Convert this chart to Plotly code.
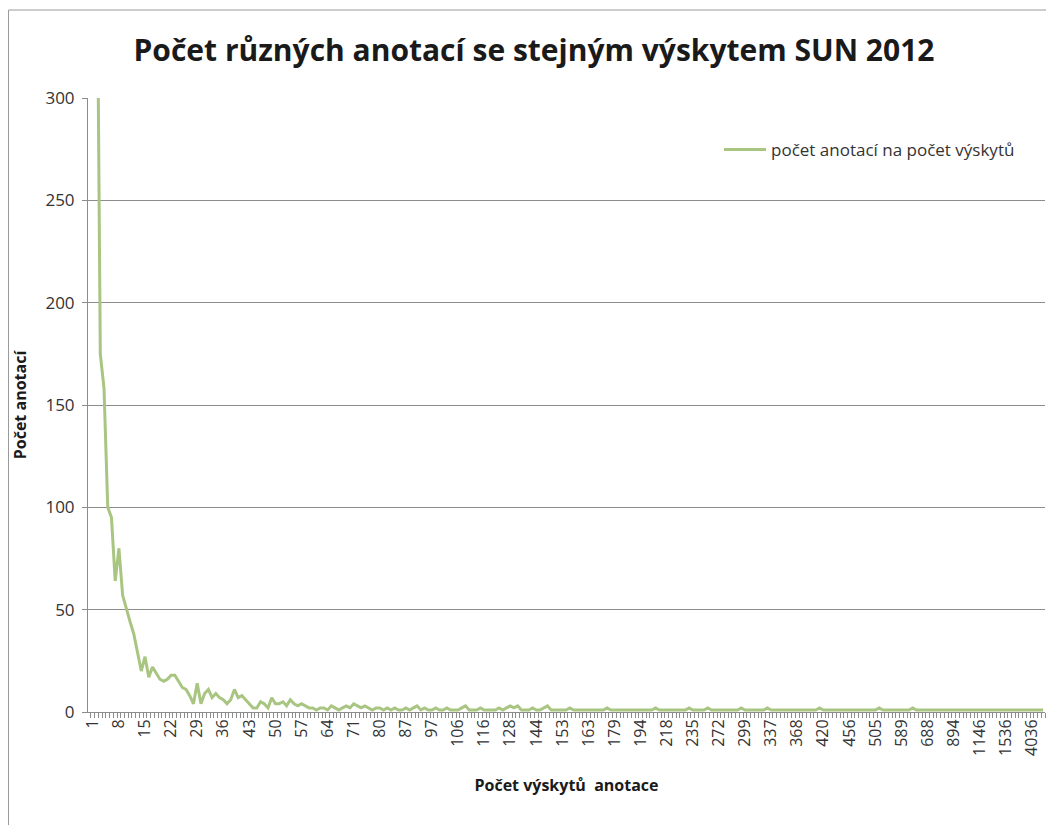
import plotly.graph_objects as go

# Occurrence counts (x categories)
categories = [
    1, 2, 3, 4, 5, 6, 7, 8, 9, 10, 11, 12, 13, 14, 15, 16, 17, 18, 19, 20,
    21, 22, 23, 24, 25, 26, 27, 28, 29, 30, 31, 32, 33, 34, 35, 36, 37, 38, 39, 40,
    41, 42, 43, 44, 45, 46, 47, 48, 49, 50, 51, 52, 53, 54, 55, 56, 57, 58, 59, 60,
    61, 62, 63, 64, 65, 66, 67, 68, 69, 70, 71,
    72, 73, 74, 75, 77, 78, 80,
    81, 82, 83, 84, 85, 86, 87,
    88, 89, 90, 92, 93, 95, 97,
    98, 99, 100, 101, 103, 104, 106,
    107, 108, 110, 111, 112, 114, 116,
    117, 118, 120, 122, 124, 126, 128,
    130, 131, 133, 135, 138, 141, 144,
    145, 146, 148, 149, 150, 152, 153,
    154, 155, 157, 158, 160, 161, 163,
    165, 167, 169, 171, 174, 177, 179,
    181, 183, 185, 187, 189, 192, 194,
    196, 199, 203, 206, 210, 214, 218,
    220, 222, 225, 227, 230, 232, 235,
    238, 242, 246, 251, 258, 265, 272,
    275, 279, 283, 286, 290, 295, 299,
    303, 308, 313, 319, 325, 330, 337,
    341, 345, 350, 354, 359, 363, 368,
    375, 381, 389, 396, 404, 412, 420,
    425, 430, 435, 440, 445, 450, 456,
    462, 469, 476, 483, 490, 497, 505,
    515, 526, 537, 549, 561, 575, 589,
    601, 614, 628, 643, 658, 673, 688,
    712, 740, 768, 796, 827, 860, 894,
    925, 962, 1001, 1040, 1075, 1110, 1146,
    1190, 1241, 1295, 1352, 1411, 1470, 1536,
    1630, 1780, 1960, 2210, 2580, 3120, 4036,
    4520, 5110, 6890,
]

# Number of annotations with that occurrence count
counts = [
    1150, 410, 175, 158, 100, 95, 64, 80, 57, 50,
    44, 38, 28, 20, 27, 17, 22, 19, 16, 15,
    16, 18, 18, 15, 12, 11, 8, 4, 14, 4,
    9, 11, 7, 9, 7, 6, 4, 6, 11, 7,
    8, 6, 4, 2, 2, 5, 4, 2, 7, 4,
    4, 5, 3, 6, 4, 3, 4, 3, 2, 2,
    1, 2, 2, 1, 3, 2, 1, 2, 3, 2, 4,
    3, 2, 3, 2, 1, 2, 2,
    1, 2, 1, 2, 1, 1, 2,
    1, 2, 3, 1, 2, 1, 1,
    2, 1, 1, 2, 1, 1, 1,
    2, 3, 1, 1, 1, 2, 1,
    1, 1, 1, 2, 1, 2, 3,
    2, 3, 1, 1, 1, 2, 1,
    1, 2, 3, 1, 1, 1, 1,
    1, 2, 1, 1, 1, 1, 1,
    1, 1, 1, 1, 2, 1, 1,
    1, 1, 1, 1, 1, 1, 1,
    1, 1, 1, 2, 1, 1, 1,
    1, 1, 1, 1, 1, 2, 1,
    1, 1, 1, 2, 1, 1, 1,
    1, 1, 1, 1, 1, 2, 1,
    1, 1, 1, 1, 1, 2, 1,
    1, 1, 1, 1, 1, 1, 1,
    1, 1, 1, 1, 1, 2, 1,
    1, 1, 1, 1, 1, 1, 1,
    1, 1, 1, 1, 1, 1, 1,
    2, 1, 1, 1, 1, 1, 1,
    1, 1, 2, 1, 1, 1, 1,
    1, 1, 1, 1, 1, 1, 1,
    1, 1, 1, 1, 1, 1, 1,
    1, 1, 1, 1, 1, 1, 1,
    1, 1, 1, 1, 1, 1, 1,
    1, 1, 1,
]

tick_labels = [
    "1", "8", "15", "22", "29", "36", "43", "50", "57", "64", "71", "80", "87",
    "97", "106", "116", "128", "144", "153", "163", "179", "194", "218", "235",
    "272", "299", "337", "368", "420", "456", "505", "589", "688", "894",
    "1146", "1536", "4036",
]

y_ticks = [0, 50, 100, 150, 200, 250, 300]

title_text = "Počet různých anotací se stejným výskytem SUN 2012"
series_name = "počet anotací na počet výskytů"
x_title = "Počet výskytů  anotace"
y_title = "Počet anotací"

cat_str = [str(c) for c in categories]
tick_text = [s if s in tick_labels else "" for s in cat_str]

FONT = "Open Sans"
GRID = "#8c8c8c"

fig = go.Figure()
fig.add_trace(go.Scatter(
    x=cat_str, y=counts, mode="lines", name=series_name,
    line=dict(color="#a9c582", width=3),
))

# page body has an 8px offset, so the figure is 8px smaller than the window
W, H = 1046, 817
ml, mr, mt, mb = 80, 9, 90, 113
pw = W - ml - mr
ph = H - mt - mb

fig.update_layout(
    width=W, height=H,
    margin=dict(l=ml, r=mr, t=mt, b=mb, autoexpand=False),
    paper_bgcolor="white", plot_bgcolor="white",
    font=dict(family=FONT, color="#333333", size=13),
    title=dict(text="<b>" + title_text + "</b>", x=(526 - ml) / pw, xanchor="center",
               xref="paper", y=1 - 42 / H, yanchor="middle",
               font=dict(family=FONT, size=30, color="#1a1a1a")),
    showlegend=True,
    legend=dict(x=(711 - ml) / pw, y=(H - mb - 142) / ph, xanchor="left",
                yanchor="middle", bgcolor="rgba(0,0,0,0)", itemwidth=42,
                font=dict(family=FONT, size=17, color="#333333")),
    shapes=[dict(type="rect", xref="paper", yref="paper",
                 x0=(0.5 - ml) / pw, x1=1.2, y0=-0.5, y1=(H - mb - 2) / ph,
                 line=dict(color="#9a9a9a", width=1), layer="below")],
)

fig.update_xaxes(
    type="category", tickmode="array", tickvals=cat_str, ticktext=tick_text,
    tickangle=-90, ticks="outside", ticklen=5, tickcolor=GRID, tickson="boundaries",
    showline=True, linecolor=GRID, linewidth=1, showgrid=False,
    range=[-1.3, len(cat_str) - 0.5], automargin=False,
    tickfont=dict(family=FONT, size=16, color="#333333"),
    title=dict(text="<b>" + x_title + "</b>", standoff=24,
               font=dict(family=FONT, size=16, color="#1a1a1a")),
)
fig.update_yaxes(
    range=[0, 300], tickmode="array", tickvals=y_ticks,
    ticks="outside", ticklen=5, tickcolor=GRID,
    showline=True, linecolor=GRID, linewidth=1,
    showgrid=True, gridcolor=GRID, gridwidth=1, zeroline=False,
    automargin=False, ticklabelstandoff=4,
    tickfont=dict(family=FONT, size=17, color="#333333"),
    title=dict(text="<b>" + y_title + "</b>", standoff=14,
               font=dict(family=FONT, size=16, color="#1a1a1a")),
)

fig.write_html("out.html")
